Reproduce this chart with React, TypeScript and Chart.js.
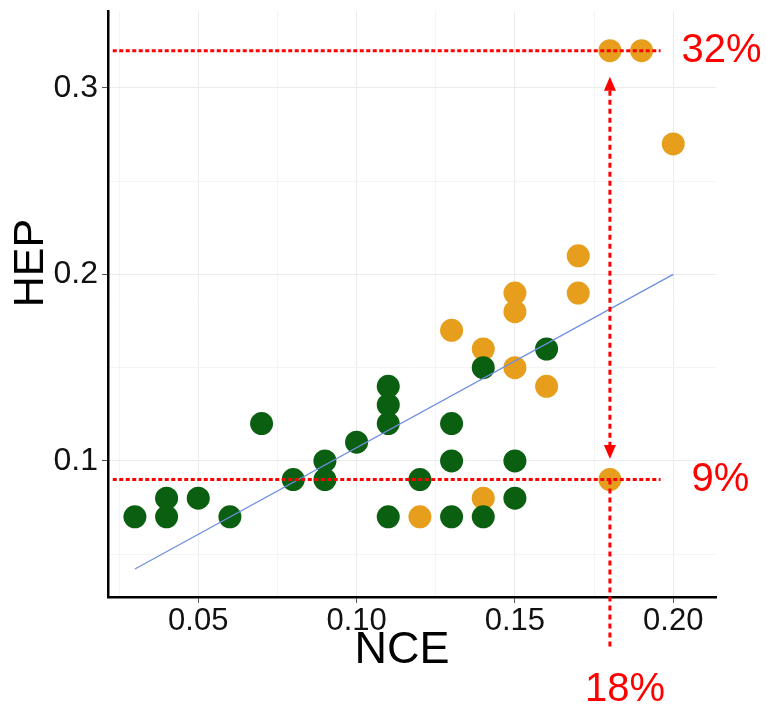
import React, { useEffect, useRef } from 'react';
import { Chart, registerables } from 'chart.js';

Chart.register(...registerables);

// ---- data ----
const greenX = [0.03, 0.04, 0.04, 0.05, 0.06, 0.07, 0.08, 0.09, 0.09, 0.10, 0.11, 0.11, 0.11, 0.11, 0.12, 0.13, 0.13, 0.13, 0.14, 0.14, 0.15, 0.15, 0.16];
const greenY = [0.07, 0.07, 0.08, 0.08, 0.07, 0.12, 0.09, 0.09, 0.10, 0.11, 0.07, 0.12, 0.13, 0.14, 0.09, 0.07, 0.10, 0.12, 0.07, 0.15, 0.08, 0.10, 0.16];
const orangeX = [0.12, 0.13, 0.14, 0.14, 0.15, 0.15, 0.15, 0.16, 0.17, 0.17, 0.18, 0.18, 0.19, 0.20];
const orangeY = [0.07, 0.17, 0.08, 0.16, 0.15, 0.18, 0.19, 0.14, 0.19, 0.21, 0.09, 0.32, 0.32, 0.27];
const fitX = [0.03, 0.20];
const fitY = [0.042, 0.200];

const xTickValues = [0.025, 0.05, 0.075, 0.10, 0.125, 0.15, 0.175, 0.20];
const xMajorTicks = [0.05, 0.10, 0.15, 0.20];
const yTickValues = [0.05, 0.10, 0.15, 0.20, 0.25, 0.30];
const yMajorTicks = [0.1, 0.2, 0.3];

const xTitle = 'NCE';
const yTitle = 'HEP';

// annotation values
const hLineValues = [0.32, 0.09];
const hLineLabels = ['32%', '9%'];
const hLineRange = [0.023, 0.196];
const vLineX = 0.18;
const vLineLabel = '18%';
const arrowRange = [0.101, 0.306];
const vLowerRange = [0.0, 0.09];

const isMajor = (v: number, majors: number[]) => majors.some((m) => Math.abs(m - v) < 1e-6);

const FONT = '"Liberation Sans", Arial, sans-serif';
const RED = '#ff0000';

const annotationPlugin = {
  id: 'annotations',
  afterDatasetsDraw(chart: any) {
    const { ctx } = chart;
    const xs = chart.scales.x;
    const ys = chart.scales.y;
    ctx.save();
    ctx.strokeStyle = RED;
    ctx.fillStyle = RED;
    ctx.lineWidth = 3;
    // horizontal dotted lines
    ctx.setLineDash([4, 2.5]);
    hLineValues.forEach((v) => {
      const y = ys.getPixelForValue(v);
      ctx.beginPath();
      ctx.moveTo(xs.getPixelForValue(hLineRange[0]), y);
      ctx.lineTo(xs.getPixelForValue(hLineRange[1]), y);
      ctx.stroke();
    });
    // vertical dotted lines
    const vx = xs.getPixelForValue(vLineX);
    ctx.setLineDash([5, 4]);
    ctx.beginPath();
    ctx.moveTo(vx, ys.getPixelForValue(vLowerRange[1]));
    ctx.lineTo(vx, ys.getPixelForValue(vLowerRange[0]));
    ctx.stroke();
    const aTop = ys.getPixelForValue(arrowRange[1]);
    const aBot = ys.getPixelForValue(arrowRange[0]);
    const head = 14;
    ctx.beginPath();
    ctx.moveTo(vx, aTop + head);
    ctx.lineTo(vx, aBot - head);
    ctx.stroke();
    ctx.setLineDash([]);
    // arrow heads
    ctx.beginPath();
    ctx.moveTo(vx, aTop);
    ctx.lineTo(vx - 6, aTop + head);
    ctx.lineTo(vx + 6, aTop + head);
    ctx.closePath();
    ctx.fill();
    ctx.beginPath();
    ctx.moveTo(vx, aBot);
    ctx.lineTo(vx - 6, aBot - head);
    ctx.lineTo(vx + 6, aBot - head);
    ctx.closePath();
    ctx.fill();

    // labels
    ctx.font = `40px ${FONT}`;
    ctx.textBaseline = 'middle';
    ctx.textAlign = 'left';
    ctx.fillText(hLineLabels[0], xs.getPixelForValue(hLineRange[1]) + 21, ys.getPixelForValue(hLineValues[0]));
    ctx.fillText(hLineLabels[1], xs.getPixelForValue(hLineRange[1]) + 31, ys.getPixelForValue(hLineValues[1]));
    ctx.textAlign = 'center';
    ctx.fillText(vLineLabel, vx + 15, 690);

    // axis titles
    ctx.fillStyle = '#000';
    ctx.font = `45px ${FONT}`;
    ctx.textAlign = 'center';
    ctx.fillText(xTitle, 402, 651);
    ctx.save();
    ctx.translate(31, 263);
    ctx.rotate(-Math.PI / 2);
    ctx.font = `43px ${FONT}`;
    ctx.fillText(yTitle, 0, 0);
    ctx.restore();
    ctx.restore();
  },
};

export default function App() {
  const ref = useRef<HTMLCanvasElement>(null);
  useEffect(() => {
    document.body.style.margin = '0';
    const canvas = ref.current!;
    const chart = new Chart(canvas, {
      type: 'scatter',
      data: {
        datasets: [
          {
            type: 'line',
            data: fitX.map((x, i) => ({ x, y: fitY[i] })),
            borderColor: '#6f8fe3',
            borderWidth: 1.3,
            pointRadius: 0,
            fill: false,
            order: 0,
          } as any,
          {
            data: greenX.map((x, i) => ({ x, y: greenY[i] })),
            backgroundColor: '#0b5f10',
            borderWidth: 0,
            pointRadius: 11.5,
            order: 1,
          },
          {
            data: orangeX.map((x, i) => ({ x, y: orangeY[i] })),
            backgroundColor: '#e69e1c',
            borderWidth: 0,
            pointRadius: 11.5,
            order: 2,
          },
        ],
      },
      options: {
        responsive: false,
        animation: false,
        devicePixelRatio: 1,
        layout: { padding: { left: 0, right: 50, top: 8, bottom: 0 } },
        plugins: { legend: { display: false }, tooltip: { enabled: false } },
        scales: {
          x: {
            type: 'linear',
            min: 0.0215,
            max: 0.2135,
            afterBuildTicks: (s: any) => {
              s.ticks = xTickValues.map((v) => ({ value: v }));
            },
            afterFit: (s: any) => {
              s.height = 113;
              s.paddingLeft = 0;
              s.paddingRight = 0;
            },
            ticks: {
              autoSkip: false,
              maxRotation: 0,
              padding: 0,
              color: '#111',
              font: { family: FONT, size: 31 },
              callback: (v: any) => (isMajor(Number(v), xMajorTicks) ? Number(v).toFixed(2) : ''),
            },
            grid: {
              color: (c: any) => (c.tick && isMajor(c.tick.value, xMajorTicks) ? '#ebebeb' : '#f4f4f4'),
              tickColor: (c: any) => (c.tick && isMajor(c.tick.value, xMajorTicks) ? '#555' : 'rgba(0,0,0,0)'),
              tickLength: 6,
              lineWidth: 1,
            },
            border: { color: '#000', width: 2.5 },
          },
          y: {
            type: 'linear',
            min: 0.027,
            max: 0.341,
            afterBuildTicks: (s: any) => {
              s.ticks = yTickValues.map((v) => ({ value: v }));
            },
            afterFit: (s: any) => {
              s.width = 108;
              s.paddingTop = 0;
              s.paddingBottom = 0;
            },
            ticks: {
              autoSkip: false,
              padding: 4,
              color: '#111',
              font: { family: FONT, size: 32 },
              callback: (v: any) => (isMajor(Number(v), yMajorTicks) ? Number(v).toFixed(1) : ''),
            },
            grid: {
              color: (c: any) => (c.tick && isMajor(c.tick.value, yMajorTicks) ? '#ebebeb' : '#f4f4f4'),
              tickColor: (c: any) => (c.tick && isMajor(c.tick.value, yMajorTicks) ? '#555' : 'rgba(0,0,0,0)'),
              tickLength: 6,
              lineWidth: 1,
            },
            border: { color: '#000', width: 2.5 },
          },
        },
      },
      plugins: [annotationPlugin],
    });
    return () => chart.destroy();
  }, []);
  return (
    <div style={{ width: 766, height: 710 }}>
      <canvas ref={ref} width={766} height={710} style={{ display: 'block', width: 766, height: 710 }} />
    </div>
  );
}
